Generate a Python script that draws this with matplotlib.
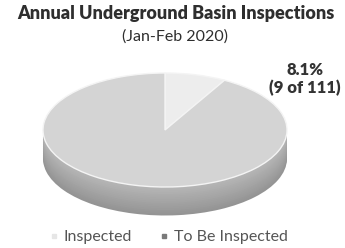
import matplotlib.pyplot as plt
from matplotlib.lines import Line2D

labels = ["Inspected", "To Be Inspected"]
counts = [9, 102]
total = 111
title = "Annual Underground Basin Inspections"
subtitle = "(Jan-Feb 2020)"

top_colors = ["#ededed", "#d4d4d4"]

plt.rcParams['font.family'] = ['Lato', 'DejaVu Sans']

fig = plt.figure(figsize=(3.45, 2.48), dpi=100)
W, H = 345, 248
# axes placed in pixels so 1 unit = 122 px wide, 57 px tall
left, bottom = 165 - 1.2 * 122, 118 - 1.8 * 57
ax = fig.add_axes([left / W, bottom / H, 2.4 * 122 / W, 3.0 * 57 / H])

# side of the disc: stacked copies shifted downwards
depth = 0.5
n = 16
for k in range(n):
    y = -depth + depth * k / n
    shade = 0.58 + 0.14 * k / n
    ax.pie(counts, startangle=90, counterclock=False, center=(0, y),
           colors=[(shade, shade, shade)] * 2, radius=1,
           wedgeprops=dict(linewidth=0))

# top face
ax.pie(counts, startangle=90, counterclock=False, center=(0, 0),
       colors=top_colors, radius=1,
       wedgeprops=dict(linewidth=1.0, edgecolor="#f4f4f4"))

ax.set_aspect('auto')
ax.set_xlim(-1.2, 1.2)
ax.set_ylim(-1.8, 1.2)
ax.axis('off')

pct = counts[0] / total * 100
fig.text(305 / W, 1 - 79 / H, f"{pct:.1f}%\n({counts[0]} of {total})",
         ha='center', va='center', fontsize=12, fontweight='heavy',
         color="#333333", linespacing=1.15)

fig.text(176 / W, 1 - 14 / H, title, ha='center', va='center',
         fontsize=13, fontweight='heavy', color="#2e2e2e")
fig.text(175 / W, 1 - 37 / H, subtitle, ha='center', va='center',
         fontsize=11.5, color="#2e2e2e")

handles = [Line2D([], [], marker='s', linestyle='', markersize=3.5,
                  markerfacecolor=c, markeredgecolor=c) for c in ["#e6e6e6", "#7a7a7a"]]
fig.legend(handles, labels, loc='center', bbox_to_anchor=(167 / W, 1 - 237 / H),
           ncol=2, frameon=False, fontsize=11.5, handletextpad=0.1,
           handlelength=1.0, columnspacing=1.5, labelcolor="#555555")

fig.savefig("out.png", dpi=100)
